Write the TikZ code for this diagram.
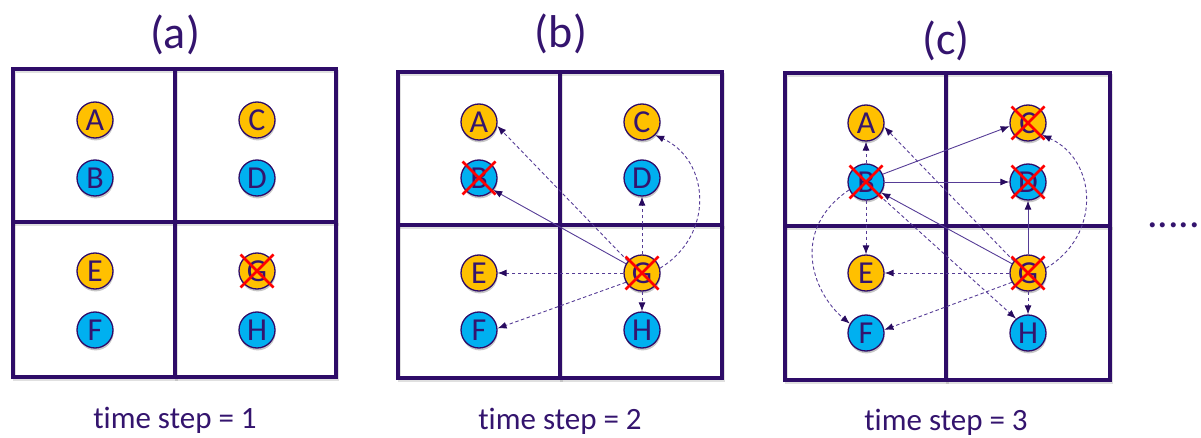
\documentclass[tikz,border=0pt]{standalone}
\usepackage{fontspec}
\setmainfont{Carlito}[Ligatures=NoCommon]
\usetikzlibrary{arrows.meta,shadows}

\definecolor{gridpurple}{RGB}{46,12,104}
\definecolor{textpurple}{RGB}{52,20,110}
\definecolor{arrowpurple}{RGB}{86,60,150}
\definecolor{tippurple}{RGB}{40,10,95}
\definecolor{nodeorange}{RGB}{255,192,0}
\definecolor{nodeblue}{RGB}{0,176,240}
\definecolor{xred}{RGB}{255,0,0}

\begin{document}
\begin{tikzpicture}[x=1pt,y=-1pt,
  gridline/.style={draw=gridpurple, line width=3.2pt, line cap=rect},
  gridshade/.style={draw=black, opacity=0.12, line width=3.2pt, line cap=rect},
  ball/.style={circle, draw=gridpurple, line width=1.3pt, minimum size=36pt,
    inner sep=0pt, text=textpurple, font=\fontsize{32}{32}\selectfont,
    drop shadow={shadow xshift=0.6pt, shadow yshift=-2.4pt, opacity=0.22, fill=black}},
  orangeball/.style={ball, fill=nodeorange},
  blueball/.style={ball, fill=nodeblue},
  title/.style={anchor=base, inner sep=0pt, text=textpurple, font=\fontsize{46}{46}\selectfont},
  caption/.style={anchor=base, inner sep=0pt, text=textpurple, font=\fontsize{31}{31}\selectfont},
  sflow/.style={draw=arrowpurple, line width=0.9pt,
    -{Latex[length=9pt,width=7pt,color=tippurple]}},
  dflow/.style={sflow, dash pattern=on 3.5pt off 2.5pt},
  cross/.style={draw=xred, line width=2.6pt}
]
\useasboundingbox (0,0) rectangle (1201,438);

% ---------- grids (faint shade first, then the lines) ----------
\foreach \l/\r/\t/\b/\mx/\my in {13/336/69/377/175/222, 398/722/72/378/560/225, 785/1110/73/380/946/226}{
  \begin{scope}[shift={(1.5,2.5)}]
    \draw[gridshade] (\l,\t) rectangle (\r,\b);
    \draw[gridshade] (\mx,\t) -- (\mx,\b);
    \draw[gridshade] (\l,\my) -- (\r,\my);
  \end{scope}
  \draw[gridline] (\l,\t) rectangle (\r,\b);
  \draw[gridline] (\mx,\t) -- (\mx,\b);
  \draw[gridline] (\l,\my) -- (\r,\my);
}

% ---------- titles and captions ----------
\node[title] (ta) at (175,49) {(a)};
\node[title] (tb) at (561,48) {(b)};
\node[title] (tc) at (946,55) {(c)};
\node[caption] (sa) at (175,428) {time step = 1};
\node[caption] (sb) at (560,429) {time step = 2};
\node[caption] (sc) at (946,430) {time step = 3};

% ---------- particles ----------
\foreach \p/\xl/\xr/\ya/\yb/\yc/\yd in {a/95/257/120/178/271/330, b/479/642/122/178/273/330, c/866/1028/123/182/273/333}{
  \node[orangeball] (\p-A) at (\xl,\ya) {A};
  \node[blueball]   (\p-B) at (\xl,\yb) {B};
  \node[orangeball] (\p-C) at (\xr,\ya) {C};
  \node[blueball]   (\p-D) at (\xr,\yb) {D};
  \node[orangeball] (\p-E) at (\xl,\yc) {E};
  \node[blueball]   (\p-F) at (\xl,\yd) {F};
  \node[orangeball] (\p-G) at (\xr,\yc) {G};
  \node[blueball]   (\p-H) at (\xr,\yd) {H};
}

% ---------- messages, step 2 ----------
\draw[dflow] (b-G.140) -- (b-A.-12);
\draw[sflow] (b-G.150) -- (b-B.-40);
\draw[dflow] (b-G.15) .. controls (715,235) and (710,160) .. (b-C.-45);
\draw[dflow] (b-G) -- (b-D);
\draw[dflow] (b-G) -- (b-E);
\draw[dflow] (b-G.-150) -- (b-F.5);
\draw[dflow] (b-G) -- (b-H);

% ---------- messages, step 3 ----------
\draw[dflow] (c-B) -- (c-A);
\draw[sflow] (c-B.25) -- (c-C.190);
\draw[sflow] (c-B) -- (c-D);
\draw[dflow] (c-B) -- (c-E);
\draw[dflow] (c-B.205) .. controls (790,230) and (812,292) .. (c-F.150);
\draw[dflow] (c-B.-45) -- (c-H.130);
\draw[dflow] (c-G.140) -- (c-A.-12);
\draw[sflow] (c-G.150) -- (c-B.-35);
\draw[sflow] (c-G) -- (c-D);
\draw[dflow] (c-G.15) .. controls (1102,235) and (1097,160) .. (c-C.-40);
\draw[dflow] (c-G) -- (c-E);
\draw[dflow] (c-G.-150) -- (c-F.10);
\draw[dflow] (c-G) -- (c-H);

% ---------- removed particles ----------
\foreach \n in {a-G, b-B, b-G, c-B, c-C, c-D, c-G}{
  \draw[cross] (\n) ++(-16.5,-16.5) -- ++(33,33) ++(0,-33) -- ++(-33,33);
}

% ---------- continuation ----------
\node[anchor=base west, inner sep=0pt, text=textpurple,
      font=\fontsize{42}{42}\selectfont] (more) at (1147,228) {.....};
\end{tikzpicture}
\end{document}
